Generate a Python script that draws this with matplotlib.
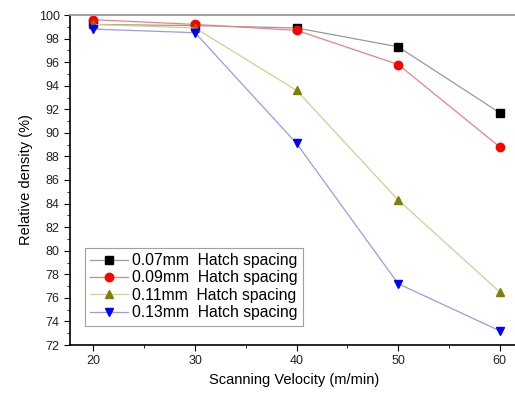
import numpy as np
import matplotlib
matplotlib.use("Agg")
import matplotlib.pyplot as plt
from matplotlib.ticker import MultipleLocator

plt.rcParams["font.family"] = ["Liberation Sans", "DejaVu Sans"]

velocity = [20, 30, 40, 50, 60]
d007 = [99.2, 99.1, 98.9, 97.3, 91.7]
d009 = [99.6, 99.2, 98.7, 95.8, 88.8]
d011 = [99.2, 98.9, 93.6, 84.3, 76.5]
d013 = [98.8, 98.5, 89.1, 77.2, 73.2]
labels = ["0.07mm  Hatch spacing", "0.09mm  Hatch spacing",
          "0.11mm  Hatch spacing", "0.13mm  Hatch spacing"]

fig = plt.figure(figsize=(5.15, 4.0), dpi=100)
ax = fig.add_axes([0.136, 0.1375, 0.87, 0.825])

series = [
    (d007, "s", "black", "#999999"),
    (d009, "o", "red", "#f08080"),
    (d011, "^", "#808000", "#d0d090"),
    (d013, "v", "blue", "#9999ee"),
]
for (vals, mk, mc, lc), lab in zip(series, labels):
    ax.plot(velocity, vals, color=lc, lw=0.9, marker=mk, markersize=6,
            markerfacecolor=mc, markeredgecolor=mc, label=lab)

ax.set_xlim(17.7, 61.8)
ax.set_ylim(72, 100)
ax.xaxis.set_major_locator(MultipleLocator(10))
ax.xaxis.set_minor_locator(MultipleLocator(5))
ax.yaxis.set_major_locator(MultipleLocator(2))
ax.yaxis.set_minor_locator(MultipleLocator(1))
ax.tick_params(which="both", direction="out", labelsize=9, labelcolor="#222222")
ax.tick_params(which="major", length=4)
ax.tick_params(which="minor", length=2.5)

ax.spines["right"].set_visible(False)
ax.spines["top"].set_color("#999999")
ax.spines["top"].set_linewidth(1.3)
ax.spines["left"].set_linewidth(1.2)
ax.spines["bottom"].set_linewidth(1.2)

ax.set_xlabel("Scanning Velocity (m/min)", fontsize=10.5)
ax.set_ylabel("Relative density (%)", fontsize=10.5)

leg = ax.legend(loc="lower left", bbox_to_anchor=(0.015, 0.035), fontsize=11.3,
                frameon=True, fancybox=False, edgecolor="#888888",
                handlelength=2.4, borderpad=0.35, labelspacing=0.15,
                handletextpad=0.25)
leg.get_frame().set_linewidth(0.8)

fig.savefig("out.png", dpi=100)
